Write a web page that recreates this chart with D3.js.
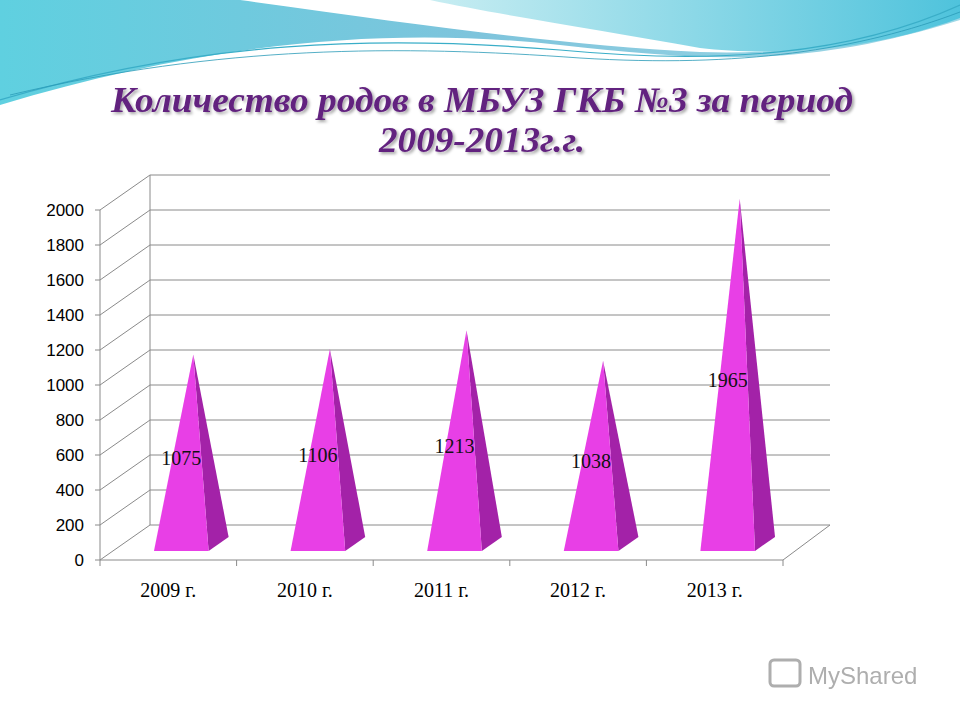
<!DOCTYPE html>
<html>
<head>
<meta charset="utf-8">
<script src="https://cdn.jsdelivr.net/npm/d3@7"></script>
<style>
  body { margin: 0; background: #fff; }
  svg { display: block; }
</style>
</head>
<body>
<svg id="chart" width="960" height="720"></svg>
<script>
const years = ["2009 г.", "2010 г.", "2011 г.", "2012 г.", "2013 г."];
const births = [1075, 1106, 1213, 1038, 1965];
const yTicks = [0, 200, 400, 600, 800, 1000, 1200, 1400, 1600, 1800, 2000];

const svg = d3.select("#chart");
const dx = 50, dy = -35; // depth offset of back wall

// background waves
const defs = svg.append("defs");
const g1 = defs.append("linearGradient").attr("id", "wave1").attr("x1", 0).attr("x2", 1);
g1.append("stop").attr("offset", 0).attr("stop-color", "#5fd0e0");
g1.append("stop").attr("offset", 0.5).attr("stop-color", "#7ec4dc");
g1.append("stop").attr("offset", 1).attr("stop-color", "#9fd8e6");
const g2 = defs.append("linearGradient").attr("id", "wave2").attr("x1", 0).attr("x2", 1);
g2.append("stop").attr("offset", 0).attr("stop-color", "#c8edf2");
g2.append("stop").attr("offset", 1).attr("stop-color", "#4fc3dc");
const shadow = defs.append("filter").attr("id", "shadow");
shadow.append("feDropShadow").attr("dx", 2).attr("dy", 2).attr("stdDeviation", 1.5)
  .attr("flood-color", "#000").attr("flood-opacity", 0.35);

svg.append("path")
  .attr("d", "M0,0 L960,0 L960,20 C800,70 700,60 560,45 C380,25 200,45 0,105 Z")
  .attr("fill", "url(#wave1)");
svg.append("path")
  .attr("d", "M240,0 L960,0 L960,10 C870,45 780,55 700,52 C560,45 420,25 240,0 Z")
  .attr("fill", "#ffffff");
svg.append("path")
  .attr("d", "M430,0 L960,0 L960,18 C860,55 760,55 700,48 C600,30 500,15 430,0 Z")
  .attr("fill", "url(#wave2)");
svg.append("path")
  .attr("d", "M0,100 C200,40 380,35 560,50 C720,65 850,55 960,5")
  .attr("fill", "none").attr("stroke", "#3aaec8").attr("stroke-width", 1.2);
svg.append("path")
  .attr("d", "M10,95 C220,45 400,45 580,58 C740,68 860,50 960,12")
  .attr("fill", "none").attr("stroke", "#2a9ab8").attr("stroke-width", 0.8);

// title
svg.append("g").attr("filter", "url(#shadow)")
  .selectAll("text")
  .data(["Количество родов в МБУЗ ГКБ №3 за период", "2009-2013г.г."])
  .join("text")
  .attr("x", 482).attr("y", (d, i) => 112 + i * 40)
  .attr("text-anchor", "middle")
  .attr("font-family", "Liberation Serif, serif")
  .attr("font-weight", "bold").attr("font-style", "italic")
  .attr("font-size", 36).attr("fill", "#62247f")
  .attr("textLength", (d, i) => i === 0 ? 742 : 206)
  .attr("lengthAdjust", "spacingAndGlyphs")
  .text(d => d);

// scales
const y = d3.scaleLinear().domain([0, 2000]).range([560, 210]);
const x = d3.scaleBand().domain(years).range([100, 783]);

const grid = svg.append("g").attr("stroke", "#8a8a8a").attr("fill", "none").attr("stroke-width", 1);
// back wall and grid lines
yTicks.forEach(t => {
  grid.append("path").attr("d", `M100,${y(t)} L${100 + dx},${y(t) + dy} L830,${y(t) + dy}`);
});
grid.append("path").attr("d", `M${100 + dx},${y(2000) + dy} L${100 + dx},${y(0) + dy}`);
grid.append("path").attr("d", `M830,${y(0) + dy} L783,${y(0)}`);
// front axis
grid.append("line").attr("x1", 100).attr("x2", 100).attr("y1", y(2000)).attr("y2", y(0));
grid.append("line").attr("x1", 100).attr("x2", 783).attr("y1", y(0)).attr("y2", y(0));
yTicks.forEach(t => grid.append("line").attr("x1", 95).attr("x2", 100).attr("y1", y(t)).attr("y2", y(t)));
x.domain().concat(["end"]).forEach((d, i) => {
  const xx = 100 + i * x.bandwidth();
  grid.append("line").attr("x1", xx).attr("x2", xx).attr("y1", y(0)).attr("y2", y(0) + 6);
});

svg.append("g").selectAll("text").data(yTicks).join("text")
  .attr("x", 84).attr("y", d => y(d) + 6)
  .attr("text-anchor", "end")
  .attr("font-family", "Liberation Sans, Arial, sans-serif").attr("font-size", 17)
  .attr("fill", "#000").text(d => d);

svg.append("g").selectAll("text").data(years).join("text")
  .attr("x", d => x(d) + x.bandwidth() / 2).attr("y", 597)
  .attr("text-anchor", "middle")
  .attr("font-family", "Liberation Serif, serif").attr("font-size", 20)
  .attr("fill", "#000").text(d => d);

// pyramids
const halfW = x.bandwidth() * 0.2;
const d0 = 0.26, d1 = 0.66, dm = 0.5;
const pyr = svg.append("g");
years.forEach((yr, i) => {
  const cx = x(yr) + x.bandwidth() / 2;
  const fl = [cx - halfW + dx * d0, y(0) + dy * d0];
  const fr = [cx + halfW + dx * d0, y(0) + dy * d0];
  const br = [cx + halfW + dx * d1, y(0) + dy * d1];
  const apex = [cx + dx * dm, y(births[i]) + dy * dm];
  pyr.append("path").attr("d", `M${fr} L${br} L${apex} Z`).attr("fill", "#a322a8");
  pyr.append("path").attr("d", `M${fl} L${fr} L${apex} Z`).attr("fill", "#e83fe6");
  pyr.append("text")
    .attr("x", cx + dx * d0).attr("y", y(births[i] / 2) - 1)
    .attr("text-anchor", "middle")
    .attr("font-family", "Liberation Serif, serif").attr("font-size", 20)
    .attr("fill", "#111").text(births[i]);
});

// watermark
svg.append("text").attr("x", 808).attr("y", 684)
  .attr("font-family", "Liberation Sans, Arial, sans-serif").attr("font-size", 24)
  .attr("fill", "#9a9a9a").attr("opacity", 0.8).text("MyShared");
svg.append("rect").attr("x", 770).attr("y", 660).attr("width", 30).attr("height", 26)
  .attr("rx", 4).attr("fill", "none").attr("stroke", "#9a9a9a").attr("stroke-width", 3).attr("opacity", 0.8);
</script>
</body>
</html>
